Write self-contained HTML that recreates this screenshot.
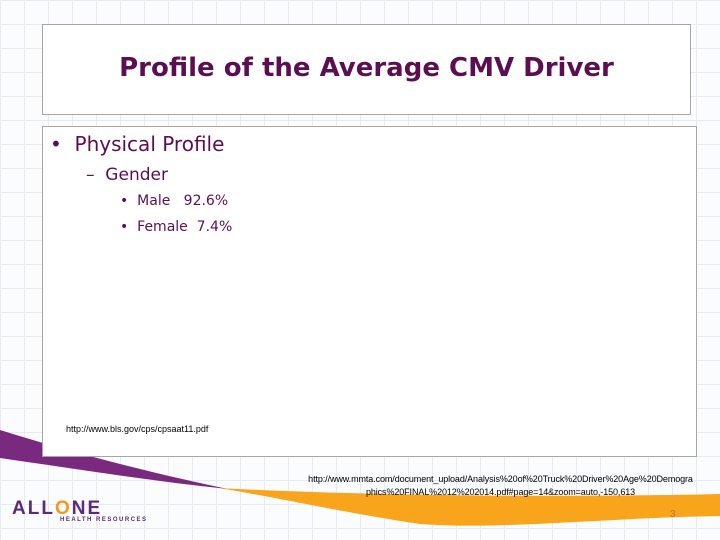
<!DOCTYPE html>
<html><head><meta charset="utf-8"><style>
html,body{margin:0;padding:0}
body{width:720px;height:540px;position:relative;overflow:hidden;font-family:"Liberation Sans",sans-serif;
background-color:#fbfcfe;
background-image:linear-gradient(#e6eaf2 1px,transparent 1px),linear-gradient(90deg,#e6eaf2 1px,transparent 1px);
background-size:24px 24px}
.box{position:absolute;background:#fff;border:1px solid #a6a6a6;box-sizing:border-box}
.t{position:absolute;color:#5b0f52;font-family:"DejaVu Sans","Liberation Sans",sans-serif}
.url{position:absolute;font-size:9px;color:#000;font-family:"Liberation Sans",sans-serif;letter-spacing:0}
</style></head><body>
<svg width="720" height="540" style="position:absolute;left:0;top:0">
<path d="M0,430 C80,455 160,475 228,489 C150,481 70,468 0,458 Z" fill="#7a2a7e"/>
<path d="M218,488 C350,495 550,498 720,494 L720,516 C600,518 500,530 420,524 C340,512 270,496 218,488 Z" fill="#f8a51b"/>
</svg>
<div class="box" style="left:42px;top:24px;width:649px;height:91px"></div>
<div class="t" style="left:42px;top:53px;width:649px;text-align:center;font-size:26px;font-weight:bold">Profile of the Average CMV Driver</div>
<div class="box" style="left:42px;top:126px;width:655px;height:331px"></div>
<div class="t" style="left:50px;top:132px;font-size:20px">•&nbsp;&nbsp;Physical Profile</div>
<div class="t" style="left:86px;top:165px;font-size:17px">–&nbsp;&nbsp;Gender</div>
<div class="t" style="left:120px;top:193px;font-size:14px">•&nbsp;&nbsp;Male&nbsp;&nbsp;&nbsp;92.6%</div>
<div class="t" style="left:120px;top:219px;font-size:14px">•&nbsp;&nbsp;Female&nbsp;&nbsp;7.4%</div>
<div class="url" style="left:66px;top:424px">http://www.bls.gov/cps/cpsaat11.pdf</div>
<div class="url" style="left:288px;top:473px;width:425px;text-align:center;line-height:13px;letter-spacing:-0.1px">http://www.mmta.com/document_upload/Analysis%20of%20Truck%20Driver%20Age%20Demogra<br>phics%20FINAL%2012%202014.pdf#page=14&amp;zoom=auto,-150,613</div>
<div style="position:absolute;left:12px;top:498px;font-weight:bold;font-size:19px;color:#5b2a78;letter-spacing:2px">ALL<span style="color:#f39a1a">O</span>NE</div>
<div style="position:absolute;left:60px;top:517px;font-size:6px;font-weight:bold;color:#5b2a78;letter-spacing:1.5px">HEALTH RESOURCES</div>
<div style="position:absolute;left:670px;top:509px;font-size:10px;color:#b07a30">3</div>
</body></html>
